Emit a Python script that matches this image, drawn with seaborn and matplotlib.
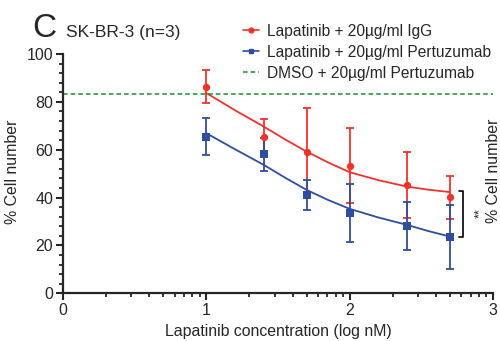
import numpy as np
import pandas as pd
import seaborn as sns
import matplotlib.pyplot as plt
from matplotlib.ticker import FixedLocator, MultipleLocator

# measured points (log nM, % cell number, error)
log_conc = [1.0, 1.4, 1.7, 2.0, 2.4, 2.7]
igg_mean = [86.4, 65.4, 59.1, 53.4, 45.3, 40.2]
igg_err = [7.0, 7.4, 18.3, 15.8, 13.9, 9.0]
pertu_mean = [65.4, 58.2, 41.1, 33.5, 28.3, 23.6]
pertu_err = [7.8, 6.9, 6.3, 12.1, 10.0, 13.4]

# fitted curves
fit_x = [1.0, 1.2, 1.4, 1.55, 1.7, 1.85, 2.0, 2.2, 2.4, 2.55, 2.7]
igg_fit = [83.7, 76.5, 69.7, 64.3, 59.2, 54.7, 50.6, 47.3, 44.6, 43.3, 42.3]
pertu_fit = [66.9, 60.2, 53.7, 48.3, 43.2, 39.0, 35.3, 31.7, 28.6, 26.0, 23.7]

dmso_level = 83.4

labels = ["Lapatinib + 20µg/ml IgG",
          "Lapatinib + 20µg/ml Pertuzumab",
          "DMSO + 20µg/ml Pertuzumab"]
red = "#f3312b"
blue = "#2f4d9e"
green = "#1f8a35"

sns.set_style("ticks")
plt.rcParams['font.family'] = ['Liberation Sans', 'DejaVu Sans']

fig = plt.figure(figsize=(5, 3.41), dpi=100)
ax = fig.add_axes([0.126, 0.1398, 0.86, 0.7018])

fits = pd.DataFrame({"x": fit_x * 2,
                     "y": igg_fit + pertu_fit,
                     "group": [labels[0]] * len(fit_x) + [labels[1]] * len(fit_x)})
sns.lineplot(data=fits, x="x", y="y", hue="group", palette=[red, blue],
             linewidth=1.3, legend=False, ax=ax)

ax.errorbar(log_conc, igg_mean, yerr=igg_err, fmt="none", ecolor=red,
            elinewidth=1.3, capsize=3, capthick=1.3)
ax.errorbar(log_conc, pertu_mean, yerr=pertu_err, fmt="none", ecolor=blue,
            elinewidth=1.3, capsize=3, capthick=1.3)
sns.scatterplot(x=log_conc, y=igg_mean, color=red, marker="o", s=28,
                linewidth=0, ax=ax, zorder=4)
sns.scatterplot(x=log_conc, y=pertu_mean, color=blue, marker="s", s=26,
                linewidth=0, ax=ax, zorder=4)
ax.axhline(dmso_level, color=green, linestyle=(0, (3, 2)), linewidth=1.1)

# significance bracket
ax.plot([2.76, 2.79, 2.79, 2.76], [igg_fit[-1] + 0.6, igg_fit[-1] + 0.6,
        pertu_fit[-1] - 0.3, pertu_fit[-1] - 0.3], color="black", linewidth=1.2,
        clip_on=False)

ax.set_xlim(0, 3)
ax.set_ylim(0, 100)
ax.set_xticks([0, 1, 2, 3])
ax.set_yticks([0, 20, 40, 60, 80, 100])
minor_x = [n + np.log10(k) for n in range(3) for k in range(2, 10)]
ax.xaxis.set_minor_locator(FixedLocator(minor_x))
ax.yaxis.set_minor_locator(MultipleLocator(4))
ax.tick_params(which="major", length=5, width=1.5, labelsize=11.5, pad=2)
ax.tick_params(which="minor", length=3, width=1.3)
for s in ["left", "bottom"]:
    ax.spines[s].set_linewidth(1.6)
sns.despine(ax=ax)

ax.set_xlabel("Lapatinib concentration (log nM)", fontsize=11.4)
ax.set_ylabel("% Cell number", fontsize=11.4)
ax.xaxis.set_label_coords(0.5, -0.13)
ax.yaxis.set_label_coords(-0.1, 0.507)

fig.text(0.064, 0.8915, "C", fontsize=24, va="baseline")
fig.text(0.132, 0.8915, "SK-BR-3 (n=3)", fontsize=12.5, va="baseline")
fig.text(0.986, 0.50, "% Cell number", fontsize=11.4, rotation=90,
         ha="center", va="center")
fig.text(0.961, 0.375, "**", fontsize=9, rotation=90, ha="center", va="center")

handles = [
    plt.Line2D([], [], color=red, marker="o", markersize=3.5, linewidth=1.2),
    plt.Line2D([], [], color=blue, marker="s", markersize=3.5, linewidth=1.2),
    plt.Line2D([], [], color=green, linestyle=(0, (3, 2)), linewidth=1.1),
]
fig.legend(handles, labels, loc="upper left", bbox_to_anchor=(0.486, 0.93),
           frameon=False, fontsize=11.2, handlelength=1.0, handletextpad=0.55,
           labelspacing=0.38, borderpad=0, borderaxespad=0)

fig.savefig("out.png", dpi=100)
